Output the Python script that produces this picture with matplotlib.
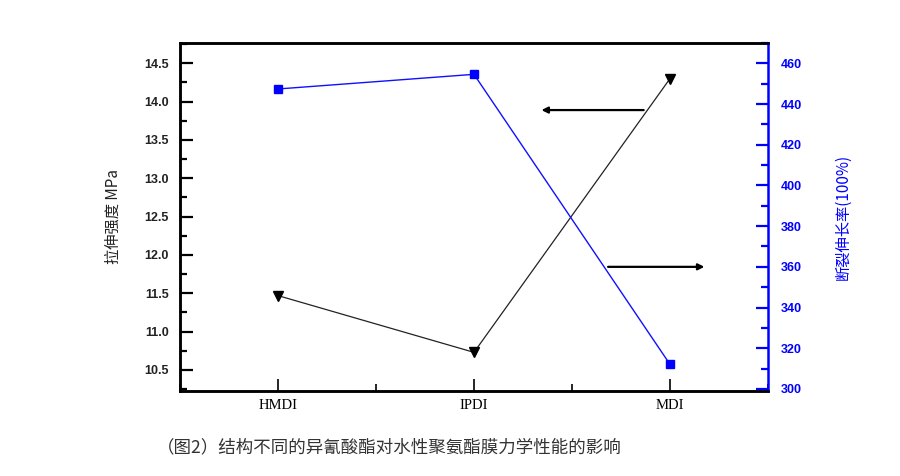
import numpy as np
import matplotlib.pyplot as plt
from matplotlib.ticker import MultipleLocator

plt.rcParams['font.family'] = ['Liberation Sans', 'Noto Sans CJK SC', 'DejaVu Sans']

# datos
categorias = ['HMDI', 'IPDI', 'MDI']
resistencia = [11.47, 10.73, 14.30]      # MPa
elongacion = [447.4, 454.6, 312.1]       # %

titulo = '（图2）结构不同的异氰酸酯对水性聚氨酯膜力学性能的影响'
ylabel_izq = '拉伸强度 MPa'
ylabel_der = '断裂伸长率(100%)'

x = np.arange(1, len(categorias) + 1)

fig = plt.figure(figsize=(9, 4.76), dpi=100)
ax = fig.add_axes([0.2, 0.1786, 0.6533, 0.7311])
ax2 = ax.twinx()

# serie de resistencia (eje izquierdo)
ax.plot(x, resistencia, color='#222222', lw=0.9, marker='v', ms=7.5,
        mfc='black', mec='black')
# serie de elongacion (eje derecho)
ax2.plot(x, elongacion, color='#1010ff', lw=1.0, marker='s', ms=6,
         mfc='#0000ff', mec='#0000ff')

ax.set_xlim(0.5, 3.5)
ax.set_ylim(10.226, 14.765)
ax2.set_ylim(299, 470)

ax.set_xticks(x)
ax.set_xticklabels(categorias, family='Liberation Serif', fontsize=10.5)
ax.xaxis.set_minor_locator(MultipleLocator(0.5))
ax.yaxis.set_major_locator(MultipleLocator(0.5))
ax.yaxis.set_minor_locator(MultipleLocator(0.25))
ax2.yaxis.set_major_locator(MultipleLocator(20))
ax2.yaxis.set_minor_locator(MultipleLocator(10))
ax.yaxis.set_major_formatter(plt.FormatStrFormatter('%.1f'))

ax.tick_params(axis='x', which='both', direction='in', top=False, pad=6)
ax.tick_params(axis='x', which='major', length=9, width=1.2)
ax.tick_params(axis='x', which='minor', length=5, width=1.2)
ax.tick_params(axis='y', which='major', direction='in', length=9, width=1.6,
               labelsize=9, labelcolor='#222222', pad=8)
ax.tick_params(axis='y', which='minor', direction='in', length=5, width=1.6)
ax2.tick_params(axis='y', which='major', direction='in', length=9, width=1.6,
                labelsize=9, colors='#0000ff', pad=9)
ax2.tick_params(axis='y', which='minor', direction='in', length=5, width=1.6,
                colors='#0000ff')
for lbl in ax.get_yticklabels() + ax2.get_yticklabels():
    lbl.set_fontweight('bold')

for s in ['left', 'bottom', 'top']:
    ax.spines[s].set_linewidth(1.8)
    ax2.spines[s].set_linewidth(1.8)
ax2.spines['right'].set_color('#0000ff')
ax2.spines['right'].set_linewidth(1.8)
ax.spines['right'].set_visible(False)

ax.set_ylabel(ylabel_izq, family=['Noto Sans CJK SC', 'DejaVu Sans'],
              fontsize=11, color='#222222', labelpad=16)
ax2.set_ylabel(ylabel_der, family=['Noto Sans CJK SC', 'DejaVu Sans'],
               fontsize=11, color='#0000ff', rotation=90, labelpad=24)

# flechas que indican a que eje pertenece cada curva
ax.annotate('', xy=(2.33, 13.89), xytext=(2.88, 13.89),
            arrowprops=dict(arrowstyle='-|>', color='black', lw=1.6,
                            mutation_scale=9))
ax2.annotate('', xy=(3.19, 360), xytext=(2.67, 360),
             arrowprops=dict(arrowstyle='-|>', color='black', lw=1.6,
                             mutation_scale=9))

fig.text(0.433, 0.06, titulo, family=['Noto Sans CJK SC', 'DejaVu Sans'],
         fontsize=12.6, color='#333333', ha='center', va='center')

fig.savefig('out.png', dpi=100)
